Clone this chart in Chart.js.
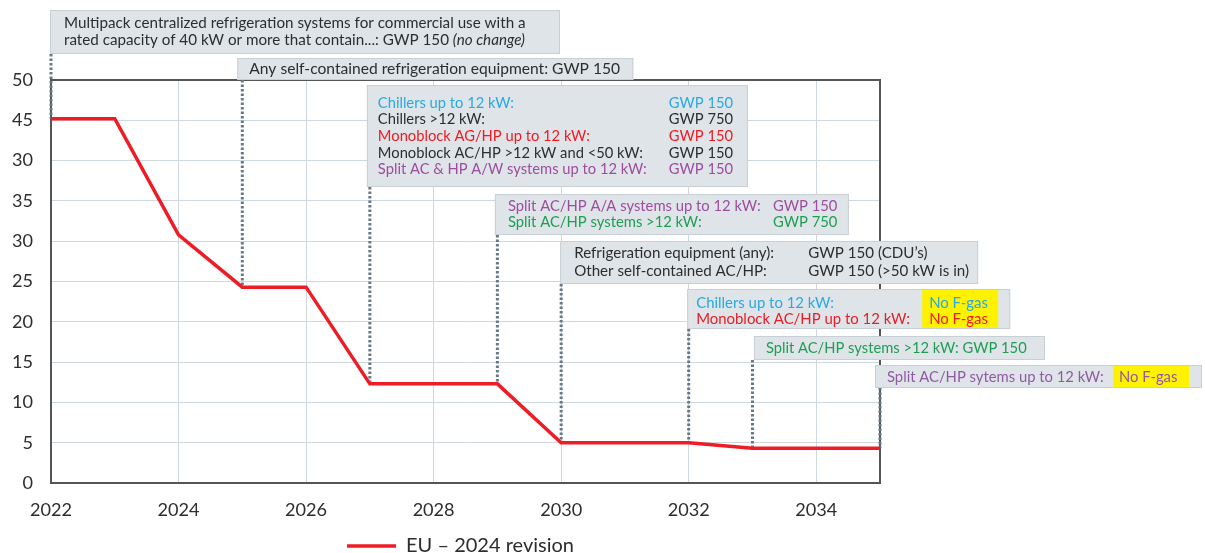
<!DOCTYPE html>
<html>
<head>
<meta charset="utf-8">
<script src="https://cdn.jsdelivr.net/npm/chart.js@4.4.1/dist/chart.umd.min.js"></script>
<style>
  html, body { margin: 0; padding: 0; background: #fff; }
</style>
</head>
<body>
<canvas id="chart" width="1205" height="553"></canvas>
<script>
// values
const years = [2022, 2023, 2024, 2025, 2026, 2027, 2029, 2030, 2032, 2033, 2035];
const quota = [45.2, 45.2, 30.8, 24.3, 24.3, 12.3, 12.3, 5.0, 5.0, 4.3, 4.3];
const xTicks = [2022, 2024, 2026, 2028, 2030, 2032, 2034];
// the original prints "30" at the 40 line, kept as is
const yTickLabels = ['0', '5', '10', '15', '20', '25', '30', '35', '30', '45', '50'];
const seriesName = 'EU – 2024 revision';

// years where a new rule kicks in (one note box each)
const milestoneYears = [2022, 2025, 2027, 2029, 2030, 2032, 2033, 2035];

const DARK = '#2d2d2d', BLUE = '#29a9e1', RED = '#ec1c24', PURPLE = '#9d4c9f', GREEN = '#1f9d55';

const notes = [
  [{a: 'Multipack centralized refrigeration systems for commercial use with a'},
   {a: 'rated capacity of 40 kW or more that contain...: GWP 150 ', it: '(no change)'}],
  [{a: 'Any self-contained refrigeration equipment: GWP 150'}],
  [{a: 'Chillers up to 12 kW:', b: 'GWP 150', c: BLUE},
   {a: 'Chillers >12 kW:', b: 'GWP 750'},
   {a: 'Monoblock AG/HP up to 12 kW:', b: 'GWP 150', c: RED},
   {a: 'Monoblock AC/HP >12 kW and <50 kW:', b: 'GWP 150'},
   {a: 'Split AC & HP A/W systems up to 12 kW:', b: 'GWP 150', c: PURPLE}],
  [{a: 'Split AC/HP A/A systems up to 12 kW:', b: 'GWP 150', c: PURPLE},
   {a: 'Split AC/HP systems >12 kW:', b: 'GWP 750', c: GREEN}],
  [{a: 'Refrigeration equipment (any):', b: 'GWP 150 (CDU’s)'},
   {a: 'Other self-contained AC/HP:', b: 'GWP 150 (>50 kW is in)'}],
  [{a: 'Chillers up to 12 kW:', b: 'No F-gas', c: BLUE},
   {a: 'Monoblock AC/HP up to 12 kW:', b: 'No F-gas', c: RED}],
  [{a: 'Split AC/HP systems >12 kW: GWP 150', c: GREEN}],
  [{a: 'Split AC/HP sytems up to 12 kW:', b: 'No F-gas', c: '#8f5aa3'}]
];

// box placement (pixels, relative to the milestone year's x position)
const boxLayout = [
  {dx: -1,   top: 10,  w: 510, h: 44,  tx: 14, y0: 13,   lh: 17,   fit: [0, 462]},
  {dx: -5,   top: 58,  w: 396, h: 22,  tx: 12, y0: 11,             fit: [0, 371]},
  {dx: -3,   top: 85,  w: 381, h: 102, tx: 11, y0: 18,   lh: 16.6, fit: [4, 269], col: 302},
  {dx: -2.5, top: 194, w: 354, h: 41,  tx: 13, y0: 12,   lh: 16,   fit: [0, 253], col: 278},
  {dx: -1,   top: 241, w: 418, h: 43,  tx: 14, y0: 12.5, lh: 17.5, fit: [1, 193], col: 248},
  {dx: -1.5, top: 289, w: 323, h: 40,  tx: 9,  y0: 14,   lh: 16,   fit: [1, 214], col: 242, hx: 235, hw: 76},
  {dx: 1.5,  top: 336, w: 291, h: 24,  tx: 12, y0: 12,             fit: [0, 261]},
  {dx: -5,   top: 365, w: 327, h: 23,  tx: 12, y0: 12,             fit: [0, 217], col: 244, hx: 238, hw: 76}
];

const FONT = 'Lato, "Open Sans", sans-serif';
const meas = document.createElement('canvas').getContext('2d');
function fitSize(text, px, style = '') {
  meas.font = `${style} 100px ${FONT}`;
  return 100 * px / meas.measureText(text).width;
}

const tickSize = fitSize('2022', 42);
const legendSize = fitSize(seriesName, 168);

const notesPlugin = {
  id: 'notes',
  afterLayout(chart) {
    // legend sits a bit left of the plot centre in the original
    chart.legend.left -= 5;
    chart.legend.right -= 5;
  },
  beforeDatasetsDraw(chart) {
    const {ctx, chartArea: a, scales: {x, y}} = chart;
    ctx.save();
    // plot frame
    ctx.strokeStyle = '#555';
    ctx.lineWidth = 2;
    ctx.strokeRect(a.left, a.top, a.right - a.left, a.bottom - a.top);
    // dotted drop lines from each box to the curve
    ctx.strokeStyle = '#687888';
    ctx.lineWidth = 3;
    ctx.setLineDash([2.5, 2]);
    milestoneYears.forEach((yr, i) => {
      const L = boxLayout[i];
      const px = x.getPixelForValue(yr);
      const v = quota[years.indexOf(yr)];
      ctx.beginPath();
      ctx.moveTo(px, L.top + L.h);
      ctx.lineTo(px, y.getPixelForValue(v));
      ctx.stroke();
    });
    ctx.restore();
  },
  afterDatasetsDraw(chart) {
    const {ctx, scales: {x}} = chart;
    ctx.save();
    ctx.textBaseline = 'middle';
    ctx.textAlign = 'left';
    notes.forEach((lines, i) => {
      const L = boxLayout[i];
      const left = x.getPixelForValue(milestoneYears[i]) + L.dx;
      ctx.fillStyle = '#dfe4e8';
      ctx.fillRect(left, L.top, L.w, L.h);
      ctx.strokeStyle = '#c8cfd5';
      ctx.lineWidth = 1;
      ctx.strokeRect(left + 0.5, L.top + 0.5, L.w - 1, L.h - 1);
      if (L.hx) {
        ctx.fillStyle = '#fff200';
        ctx.fillRect(left + L.hx, L.top + 1, L.hw, L.h - 2);
      }
      const size = fitSize(lines[L.fit[0]].a, L.fit[1]);
      lines.forEach((ln, j) => {
        const ty = L.top + L.y0 + j * (L.lh || 0);
        ctx.fillStyle = ln.c || DARK;
        ctx.font = `${size}px ${FONT}`;
        ctx.fillText(ln.a, left + L.tx, ty);
        if (ln.it) {
          const w = ctx.measureText(ln.a).width;
          ctx.font = `italic ${size}px ${FONT}`;
          ctx.fillText(ln.it, left + L.tx + w, ty);
        }
        if (ln.b) ctx.fillText(ln.b, left + L.col, ty);
      });
    });
    ctx.restore();
  }
};

new Chart(document.getElementById('chart'), {
  type: 'line',
  data: {
    datasets: [{
      label: seriesName,
      data: years.map((yr, i) => ({x: yr, y: quota[i]})),
      borderColor: '#ee1c25',
      backgroundColor: '#ee1c25',
      borderWidth: 3.5,
      pointRadius: 0,
      tension: 0
    }]
  },
  options: {
    responsive: false,
    animation: false,
    devicePixelRatio: 1,
    layout: { padding: { top: 80, right: 325, left: 0, bottom: 0 } },
    plugins: {
      tooltip: { enabled: false },
      legend: {
        position: 'bottom',
        fullSize: false,
        maxHeight: 22,
        labels: {
          usePointStyle: true,
          pointStyle: 'line',
          pointStyleWidth: 49,
          padding: 5,
          color: '#2d2d2d',
          font: { family: FONT, size: legendSize }
        }
      }
    },
    scales: {
      x: {
        type: 'linear',
        min: 2022,
        max: 2035,
        afterBuildTicks: s => { s.ticks = xTicks.map(v => ({value: v})); },
        afterFit: s => { s.height = 48; },
        grid: { color: '#cfd8df', lineWidth: 1, drawTicks: false },
        border: { display: false },
        ticks: {
          padding: 16,
          color: '#2d2d2d',
          font: { family: FONT, size: tickSize },
          callback: v => String(v)
        }
      },
      y: {
        min: 0,
        max: 50,
        afterFit: s => { s.width = 51; },
        grid: { color: '#cfd8df', lineWidth: 1, drawTicks: false },
        border: { display: false },
        ticks: {
          stepSize: 5,
          padding: 18,
          color: '#2d2d2d',
          font: { family: FONT, size: tickSize },
          callback: v => yTickLabels[Math.round(v / 5)]
        }
      }
    }
  },
  plugins: [notesPlugin]
});
</script>
</body>
</html>
